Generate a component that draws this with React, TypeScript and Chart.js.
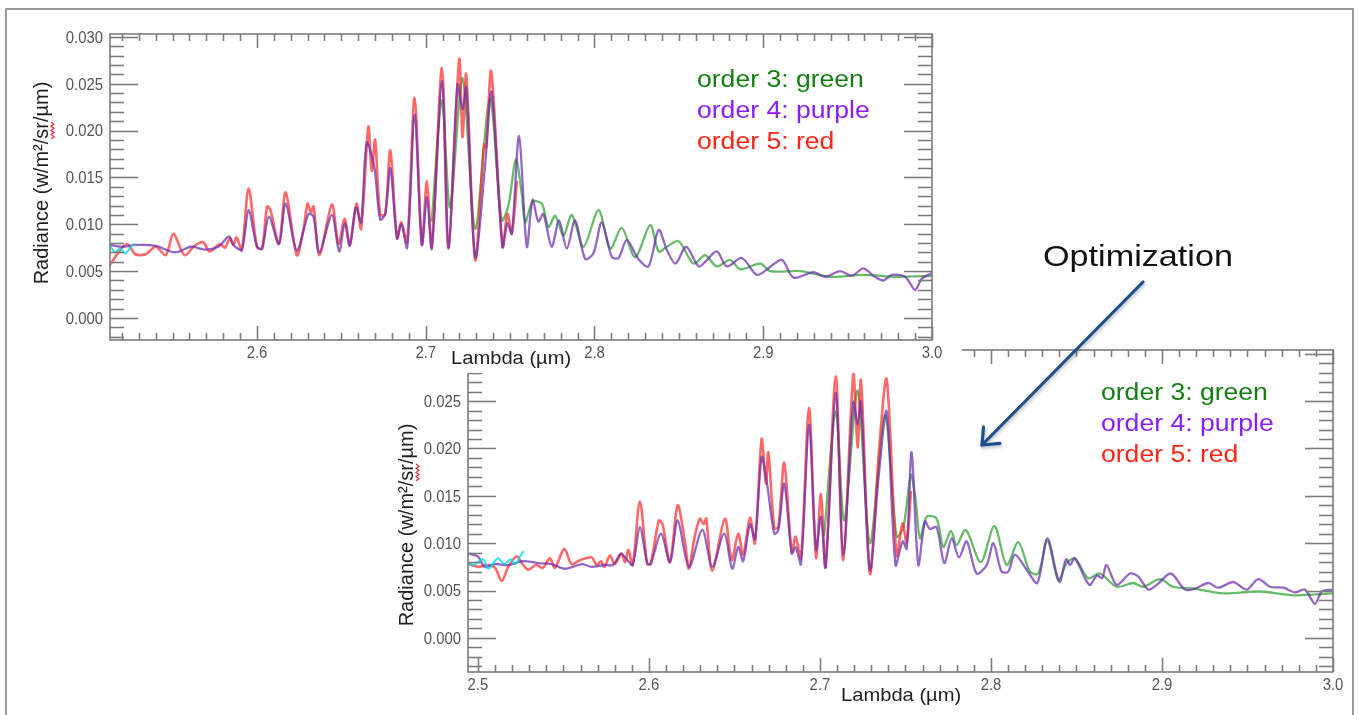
import React, { useEffect, useRef } from "react";
import { Chart, registerables } from "chart.js";

Chart.register(...registerables);

type Pt = [number, number];

// ---------------- data: upper panel (wavelength µm, radiance) ----------------
const TOP_CYAN: Pt[] = [
  [2.513, 0.0077], [2.516, 0.0070], [2.519, 0.0074], [2.522, 0.0069], [2.525, 0.0075], [2.527, 0.0079],
];
const TOP_RED: Pt[] = [
  [2.513, 0.0057], [2.518, 0.0070], [2.523, 0.0079], [2.528, 0.0068], [2.534, 0.0068], [2.540, 0.0076],
  [2.546, 0.0067], [2.5505, 0.0090], [2.557, 0.0067], [2.563, 0.0077], [2.568, 0.0081], [2.572, 0.0071],
  [2.578, 0.0079], [2.581, 0.0075], [2.584, 0.0085], [2.586, 0.0078], [2.588, 0.0086], [2.591, 0.0072],
  [2.595, 0.0138], [2.600, 0.0076], [2.603, 0.0074], [2.606, 0.0119], [2.608, 0.0115], [2.613, 0.0079],
  [2.617, 0.0134], [2.6236, 0.0067], [2.6276, 0.0095], [2.630, 0.0122], [2.632, 0.0113], [2.6335, 0.0119],
  [2.637, 0.0067], [2.6444, 0.0121], [2.6483, 0.0079], [2.652, 0.0106], [2.655, 0.0078], [2.659, 0.0122],
  [2.6617, 0.0095], [2.666, 0.0204], [2.668, 0.0157], [2.670, 0.0190], [2.673, 0.0110], [2.676, 0.0111],
  [2.679, 0.0179], [2.683, 0.0085], [2.6855, 0.0102], [2.689, 0.0081], [2.6934, 0.0235], [2.6977, 0.0079],
  [2.7007, 0.0146], [2.7036, 0.0076], [2.7096, 0.0267], [2.7135, 0.0074], [2.7198, 0.0276], [2.7218, 0.0193],
  [2.724, 0.0260], [2.7293, 0.0062], [2.7345, 0.0185], [2.7358, 0.0182], [2.7388, 0.0263], [2.7455, 0.0076],
  [2.7484, 0.0111], [2.751, 0.0090], [2.754, 0.0145],
];
const TOP_PURPLE: Pt[] = [
  [2.513, 0.0078], [2.520, 0.0076], [2.528, 0.0078], [2.540, 0.0077], [2.5515, 0.0070], [2.561, 0.0076],
  [2.569, 0.0073], [2.577, 0.0076], [2.5835, 0.0087], [2.586, 0.0078], [2.591, 0.0073], [2.595, 0.0115],
  [2.600, 0.0076], [2.603, 0.0074], [2.607, 0.0108], [2.613, 0.0079], [2.617, 0.0122], [2.6236, 0.0072],
  [2.6305, 0.0111], [2.6335, 0.0108], [2.637, 0.0070], [2.6444, 0.0110], [2.6487, 0.0071], [2.652, 0.0101],
  [2.655, 0.0077], [2.6586, 0.0118], [2.6617, 0.0102], [2.665, 0.0187], [2.6695, 0.0161], [2.673, 0.0105],
  [2.676, 0.0111], [2.679, 0.0160], [2.683, 0.0085], [2.6855, 0.0100], [2.689, 0.0075], [2.6934, 0.0217],
  [2.6977, 0.0078], [2.7007, 0.0129], [2.7036, 0.0074], [2.7096, 0.0253], [2.7135, 0.0075], [2.7188, 0.0249],
  [2.7218, 0.0223], [2.724, 0.0246], [2.7293, 0.0065], [2.7352, 0.0163], [2.739, 0.0241], [2.7455, 0.0076],
  [2.7484, 0.0101], [2.751, 0.0090], [2.7553, 0.0194], [2.7599, 0.0076], [2.7633, 0.0126], [2.7667, 0.0103],
  [2.7697, 0.0111], [2.7746, 0.0076], [2.779, 0.0104], [2.7836, 0.0074], [2.7885, 0.0104], [2.7945, 0.0063],
  [2.7994, 0.0069], [2.8043, 0.0102], [2.8103, 0.0065], [2.8142, 0.0064], [2.8191, 0.0083], [2.826, 0.0063],
  [2.832, 0.0055], [2.838, 0.0094], [2.843, 0.0072], [2.848, 0.0058], [2.8543, 0.0076], [2.8617, 0.0055],
  [2.8656, 0.0060], [2.8725, 0.0071], [2.8784, 0.0055], [2.8873, 0.0064], [2.8962, 0.0046], [2.9031, 0.0053],
  [2.911, 0.0062], [2.918, 0.0043], [2.9298, 0.0049], [2.9367, 0.0044], [2.9456, 0.0050], [2.9525, 0.0045],
  [2.9594, 0.0053], [2.9653, 0.0045], [2.9712, 0.0040], [2.9762, 0.0046], [2.984, 0.0044], [2.990, 0.0030],
  [2.994, 0.0042], [3.000, 0.0048],
];
const TOP_GREEN: Pt[] = [
  [2.7036, 0.0104], [2.7096, 0.0232], [2.7144, 0.0118], [2.7218, 0.0256], [2.7293, 0.0095], [2.738, 0.0234],
  [2.745, 0.0104], [2.749, 0.0120], [2.7534, 0.0169], [2.757, 0.0131], [2.759, 0.0102], [2.7633, 0.0124],
  [2.7688, 0.0122], [2.7727, 0.0097], [2.7767, 0.0109], [2.7816, 0.0088], [2.7866, 0.0110], [2.7935, 0.0076],
  [2.8024, 0.0115], [2.8093, 0.0074], [2.8162, 0.0096], [2.8241, 0.0065], [2.833, 0.0099], [2.838, 0.0071],
  [2.8429, 0.0076], [2.8498, 0.0082], [2.8587, 0.0058], [2.8656, 0.0067], [2.8725, 0.0055], [2.8804, 0.0062],
  [2.8863, 0.0052], [2.8982, 0.0058], [2.9041, 0.0050], [2.922, 0.0050], [2.9397, 0.0044], [2.9594, 0.0046],
  [2.9792, 0.0044], [3.000, 0.0045],
];

// ---------------- data: lower panel (after optimization) ----------------
const BOT_CYAN: Pt[] = [
  [2.4945, 0.0079], [2.4975, 0.0077], [2.503, 0.0083], [2.506, 0.0073], [2.5116, 0.0084], [2.5155, 0.0078],
  [2.519, 0.0083], [2.522, 0.0078], [2.5246, 0.0086], [2.5265, 0.0091],
];
const BOT_RED: Pt[] = [
  [2.4945, 0.0078], [2.5002, 0.0075], [2.505, 0.0077], [2.510, 0.0074], [2.5139, 0.0060], [2.5177, 0.0075],
  [2.5226, 0.0086], [2.5265, 0.0077], [2.5294, 0.0072], [2.534, 0.0077], [2.538, 0.0074], [2.5421, 0.0084],
  [2.545, 0.0074], [2.5505, 0.0094], [2.5548, 0.0078], [2.5596, 0.0082], [2.5665, 0.0085], [2.5694, 0.0077],
  [2.572, 0.0081], [2.574, 0.0075], [2.5772, 0.0087], [2.580, 0.0078], [2.584, 0.0089], [2.586, 0.0080],
  [2.588, 0.0093], [2.5905, 0.0077], [2.5947, 0.0144], [2.599, 0.0078], [2.601, 0.0078], [2.6058, 0.0124],
  [2.608, 0.0120], [2.6123, 0.0080], [2.6168, 0.0140], [2.621, 0.0102], [2.6234, 0.0073], [2.6265, 0.0105],
  [2.6298, 0.0126], [2.632, 0.0120], [2.6335, 0.0126], [2.637, 0.0071], [2.6444, 0.0126], [2.6484, 0.0082],
  [2.6522, 0.0110], [2.6551, 0.0088], [2.6591, 0.0127], [2.662, 0.0100], [2.6659, 0.0210], [2.6684, 0.0163],
  [2.6698, 0.0196], [2.6733, 0.0116], [2.6757, 0.0117], [2.6791, 0.0185], [2.6835, 0.0091], [2.6858, 0.0107],
  [2.6889, 0.0084], [2.6936, 0.0243], [2.6977, 0.0085], [2.7006, 0.0152], [2.7033, 0.0075], [2.7092, 0.0276],
  [2.7136, 0.0082], [2.7195, 0.0278], [2.722, 0.0201], [2.724, 0.0272], [2.7292, 0.0068], [2.7345, 0.0197],
  [2.739, 0.0273], [2.7448, 0.0087], [2.7483, 0.0121], [2.7507, 0.0100], [2.7532, 0.0154],
];
const BOT_PURPLE: Pt[] = [
  [2.4945, 0.0089], [2.500, 0.0086], [2.504, 0.0075], [2.510, 0.0078], [2.518, 0.0077], [2.5265, 0.0081],
  [2.535, 0.0079], [2.543, 0.0078], [2.551, 0.0073], [2.561, 0.0078], [2.5665, 0.0075], [2.574, 0.0077],
  [2.579, 0.0077], [2.5836, 0.0089], [2.587, 0.0083], [2.5905, 0.0077], [2.5947, 0.0117], [2.599, 0.0079],
  [2.601, 0.0078], [2.607, 0.0110], [2.6123, 0.0080], [2.6168, 0.0124], [2.6234, 0.0075], [2.6312, 0.0114],
  [2.637, 0.0075], [2.644, 0.0110], [2.6487, 0.0073], [2.6522, 0.0096], [2.6551, 0.0081], [2.6591, 0.0120],
  [2.662, 0.0104], [2.6659, 0.0191], [2.6692, 0.0161], [2.6733, 0.0110], [2.6757, 0.0114], [2.6791, 0.0163],
  [2.6835, 0.0089], [2.6858, 0.0096], [2.6889, 0.0078], [2.6936, 0.0225], [2.6977, 0.0093], [2.7006, 0.0128],
  [2.7033, 0.0075], [2.7092, 0.0259], [2.7136, 0.0088], [2.7195, 0.0249], [2.722, 0.0225], [2.724, 0.0249],
  [2.7292, 0.0072], [2.7345, 0.0174], [2.739, 0.0239], [2.7442, 0.0077], [2.7483, 0.0102], [2.7507, 0.0094],
  [2.7536, 0.0196], [2.7575, 0.0077], [2.7614, 0.0123], [2.7643, 0.0115], [2.7682, 0.0117], [2.7727, 0.0079],
  [2.777, 0.0105], [2.7813, 0.0085], [2.7858, 0.0102], [2.7916, 0.0068], [2.7975, 0.0077], [2.8014, 0.0100],
  [2.8062, 0.0070], [2.8101, 0.0070], [2.814, 0.0088], [2.8209, 0.0072], [2.8271, 0.0058], [2.833, 0.0105],
  [2.840, 0.0059], [2.8439, 0.0083], [2.8463, 0.0077], [2.8491, 0.0084], [2.8575, 0.0056], [2.862, 0.0066],
  [2.865, 0.0063], [2.8676, 0.0077], [2.8735, 0.0056], [2.8813, 0.0068], [2.886, 0.0065], [2.892, 0.0051],
  [2.897, 0.0056], [2.9051, 0.0068], [2.9135, 0.0051], [2.9193, 0.0052], [2.9271, 0.0058], [2.9329, 0.0053],
  [2.9417, 0.0059], [2.9495, 0.0051], [2.9563, 0.0062], [2.9631, 0.0054], [2.971, 0.0053], [2.9778, 0.0048],
  [2.9836, 0.0051], [2.9895, 0.0036], [2.9934, 0.0049], [3.000, 0.0051],
];
const BOT_GREEN: Pt[] = [
  [2.7025, 0.0109], [2.7092, 0.0239], [2.7142, 0.0124], [2.722, 0.0261], [2.7292, 0.0100], [2.738, 0.0235],
  [2.7448, 0.0107], [2.7488, 0.0117], [2.7532, 0.0172], [2.756, 0.0145], [2.7585, 0.0105], [2.7624, 0.0128],
  [2.7682, 0.0126], [2.7721, 0.0096], [2.7766, 0.0113], [2.7799, 0.0098], [2.7853, 0.0114], [2.794, 0.0080],
  [2.802, 0.0118], [2.8092, 0.0077], [2.816, 0.0101], [2.8228, 0.0070], [2.8277, 0.0068], [2.833, 0.0103],
  [2.8394, 0.0061], [2.8443, 0.0079], [2.8491, 0.0084], [2.8569, 0.0063], [2.8637, 0.0068], [2.8735, 0.0054],
  [2.8832, 0.0058], [2.8891, 0.0054], [2.8988, 0.0062], [2.9065, 0.0054], [2.9183, 0.0052], [2.9359, 0.0047],
  [2.9573, 0.0049], [2.9768, 0.0045], [3.000, 0.0047],
];

// ---------------- axes, ticks, texts ----------------
const TOP_X_RANGE: Pt = [2.5129, 3.0];
const TOP_Y_RANGE: Pt = [-0.00235, 0.0303];
const BOT_X_RANGE: Pt = [2.4942, 3.0];
const BOT_Y_RANGE: Pt = [-0.0036, 0.0304];

const TOP_X_TICKS = [2.6, 2.7, 2.8, 2.9, 3.0];
const BOT_X_TICKS = [2.5, 2.6, 2.7, 2.8, 2.9, 3.0];
const Y_TICKS = [0, 0.005, 0.01, 0.015, 0.02, 0.025, 0.03];
const X_MINOR_PER_UNIT = 100; // minor tick every 0.01
const Y_MINOR_PER_UNIT = 1000; // minor tick every 0.001

const LEGEND_LABELS = ["order 3: green", "order 4: purple", "order 5: red"];
const LEGEND_COLORS = ["#127f10", "#8a1cff", "#ff2414"];
const X_TITLE = "Lambda (µm)";
const Y_TITLE = "Radiance (w/m²/sr/µm)";
const ANNOTATION = "Optimization";

const FONT = "'Liberation Sans', Arial, sans-serif";
const AXIS_COLOR = "#7c7c7c";
const TICK_TEXT = "#555555";

const LINE_COLORS = {
  cyan: "rgba(0,225,240,0.85)",
  purple: "rgba(105,45,175,0.72)",
  red: "rgba(255,40,40,0.70)",
  green: "rgba(45,160,45,0.72)",
};

type PanelCfg = {
  left: number; top: number; width: number; height: number; z: number;
  pad: { left: number; right: number; top: number; bottom: number };
  xr: Pt; yr: Pt; xTicks: number[];
  cyan: Pt[]; red: Pt[]; purple: Pt[]; green: Pt[];
  yTitle: { x: number; y: number };
  xTitle: { x: number; y: number };
  legend: { x: number; y: number; gap: number };
  xLabelBase: number;
};

const TOP_CFG: PanelCfg = {
  left: 7, top: 10, width: 955, height: 363, z: 2,
  pad: { left: 103, right: 30, top: 24, bottom: 33 },
  xr: TOP_X_RANGE, yr: TOP_Y_RANGE, xTicks: TOP_X_TICKS,
  cyan: TOP_CYAN, red: TOP_RED, purple: TOP_PURPLE, green: TOP_GREEN,
  yTitle: { x: 48, y: 183 },
  xTitle: { x: 451, y: 364 },
  legend: { x: 697, y: 87, gap: 31 },
  xLabelBase: 358,
};

const BOT_CFG: PanelCfg = {
  left: 390, top: 345, width: 960, height: 370, z: 1,
  pad: { left: 78, right: 17, top: 5, bottom: 43 },
  xr: BOT_X_RANGE, yr: BOT_Y_RANGE, xTicks: BOT_X_TICKS,
  cyan: BOT_CYAN, red: BOT_RED, purple: BOT_PURPLE, green: BOT_GREEN,
  yTitle: { x: 413, y: 525 },
  xTitle: { x: 841, y: 701 },
  legend: { x: 1101, y: 400, gap: 31 },
  xLabelBase: 690,
};

function stretchText(
  ctx: CanvasRenderingContext2D, text: string, x: number, y: number,
  font: string, color: string, align: CanvasTextAlign, sx: number, baseline: CanvasTextBaseline = "alphabetic"
) {
  ctx.save();
  ctx.font = font;
  ctx.fillStyle = color;
  ctx.textAlign = align;
  ctx.textBaseline = baseline;
  ctx.translate(x, y);
  ctx.scale(sx, 1);
  ctx.fillText(text, 0, 0);
  ctx.restore();
}

function makePlugin(cfg: PanelCfg) {
  return {
    id: "idlAxes",
    afterDatasetsDraw(chart: any) {
      const ctx: CanvasRenderingContext2D = chart.ctx;
      const a = chart.chartArea;
      const xs = chart.scales.x;
      const ys = chart.scales.y;
      const ox = cfg.left, oy = cfg.top;

      ctx.save();
      ctx.strokeStyle = AXIS_COLOR;
      ctx.lineWidth = 1.6;
      ctx.strokeRect(a.left, a.top, a.right - a.left, a.bottom - a.top);

      const seg = (x1: number, y1: number, x2: number, y2: number) => {
        ctx.beginPath();
        ctx.moveTo(x1, y1);
        ctx.lineTo(x2, y2);
        ctx.stroke();
      };

      // y ticks (left & right, inward)
      const yStart = Math.ceil(cfg.yr[0] * Y_MINOR_PER_UNIT - 1e-6);
      const yEnd = Math.floor(cfg.yr[1] * Y_MINOR_PER_UNIT + 1e-6);
      for (let k = yStart; k <= yEnd; k++) {
        const major = k % 5 === 0;
        const py = Math.round(ys.getPixelForValue(k / Y_MINOR_PER_UNIT)) + 0.5;
        const len = major ? 28 : 14;
        seg(a.left, py, a.left + len, py);
        seg(a.right, py, a.right - len, py);
      }
      // x ticks (bottom & top, inward)
      const xStart = Math.ceil(cfg.xr[0] * X_MINOR_PER_UNIT - 1e-6);
      const xEnd = Math.floor(cfg.xr[1] * X_MINOR_PER_UNIT + 1e-6);
      for (let k = xStart; k <= xEnd; k++) {
        const major = k % 10 === 0;
        const px = Math.round(xs.getPixelForValue(k / X_MINOR_PER_UNIT)) + 0.5;
        const len = major ? 14 : 7;
        seg(px, a.bottom, px, a.bottom - len);
        seg(px, a.top, px, a.top + len);
      }
      ctx.restore();

      // tick labels
      const tickFont = `16px ${FONT}`;
      Y_TICKS.forEach((v) => {
        if (v < cfg.yr[0] || v > cfg.yr[1]) return;
        stretchText(ctx, v.toFixed(3), a.left - 7, ys.getPixelForValue(v) + 1.5, tickFont, TICK_TEXT, "right", 0.93, "middle");
      });
      cfg.xTicks.forEach((v) => {
        stretchText(ctx, v.toFixed(1), xs.getPixelForValue(v), cfg.xLabelBase - oy, tickFont, TICK_TEXT, "center", 0.93);
      });

      // x title
      stretchText(ctx, X_TITLE, cfg.xTitle.x - ox, cfg.xTitle.y - oy, `19px ${FONT}`, "#1e1e1e", "left", 1.06);

      // y title (rotated) with spell-check squiggle under "sr"
      ctx.save();
      ctx.translate(cfg.yTitle.x - ox, cfg.yTitle.y - oy);
      ctx.rotate(-Math.PI / 2);
      ctx.font = `20px ${FONT}`;
      ctx.fillStyle = "#1e1e1e";
      ctx.textAlign = "center";
      ctx.textBaseline = "alphabetic";
      ctx.fillText(Y_TITLE, 0, 0);
      const full = ctx.measureText(Y_TITLE).width;
      const idx = Y_TITLE.indexOf("sr");
      const pre = ctx.measureText(Y_TITLE.slice(0, idx)).width;
      const sw = ctx.measureText("sr").width;
      const x0 = -full / 2 + pre;
      ctx.strokeStyle = "#e02222";
      ctx.lineWidth = 1.1;
      ctx.beginPath();
      const n = 8;
      for (let i = 0; i <= n; i++) {
        const px = x0 + (i * sw) / n;
        const py = 3 + (i % 2 ? 3 : 0);
        if (i === 0) ctx.moveTo(px, py);
        else ctx.lineTo(px, py);
      }
      ctx.stroke();
      ctx.restore();

      // legend text
      LEGEND_LABELS.forEach((t, i) => {
        stretchText(ctx, t, cfg.legend.x - ox, cfg.legend.y - oy + i * cfg.legend.gap, `23px ${FONT}`, LEGEND_COLORS[i], "left", 1.155);
      });
    },
  };
}

function toXY(pts: Pt[]) {
  return pts.map(([x, y]) => ({ x, y }));
}

function Panel({ cfg, background }: { cfg: PanelCfg; background: string }) {
  const ref = useRef<HTMLCanvasElement>(null);
  useEffect(() => {
    if (!ref.current) return;
    const mk = (pts: Pt[], color: string, w: number) => ({
      data: toXY(pts),
      borderColor: color,
      borderWidth: w,
      pointRadius: 0,
      fill: false,
      tension: 0.3,
      borderJoinStyle: "round" as const,
      borderCapStyle: "round" as const,
    });
    const chart = new Chart(ref.current, {
      type: "line",
      data: {
        datasets: [
          mk(cfg.cyan, LINE_COLORS.cyan, 2),
          mk(cfg.purple, LINE_COLORS.purple, 2.3),
          mk(cfg.red, LINE_COLORS.red, 2.6),
          mk(cfg.green, LINE_COLORS.green, 2.3),
        ],
      },
      options: {
        responsive: false,
        animation: false,
        devicePixelRatio: 1,
        events: [],
        layout: { padding: cfg.pad },
        scales: {
          x: { type: "linear", min: cfg.xr[0], max: cfg.xr[1], display: false },
          y: { type: "linear", min: cfg.yr[0], max: cfg.yr[1], display: false },
        },
        plugins: { legend: { display: false }, tooltip: { enabled: false } },
        elements: { point: { radius: 0 } },
      },
      plugins: [makePlugin(cfg)],
    } as any);
    return () => chart.destroy();
  }, [cfg]);
  return (
    <canvas
      ref={ref}
      width={cfg.width}
      height={cfg.height}
      style={{
        position: "absolute",
        left: cfg.left,
        top: cfg.top,
        width: cfg.width,
        height: cfg.height,
        zIndex: cfg.z,
        background,
      }}
    />
  );
}

function Arrow() {
  const tail = { x: 1143, y: 282 };
  const tip = { x: 982, y: 445 };
  const ang = Math.atan2(tail.y - tip.y, tail.x - tip.x);
  const L = 18;
  const spread = (40 * Math.PI) / 180;
  const p1 = { x: tip.x + L * Math.cos(ang - spread), y: tip.y + L * Math.sin(ang - spread) };
  const p2 = { x: tip.x + L * Math.cos(ang + spread), y: tip.y + L * Math.sin(ang + spread) };
  return (
    <svg
      width={1359}
      height={715}
      style={{ position: "absolute", left: 0, top: 0, zIndex: 3, pointerEvents: "none" }}
    >
      <defs>
        <filter id="sh" x="-20%" y="-20%" width="140%" height="140%">
          <feDropShadow dx="1" dy="2" stdDeviation="1.5" floodColor="#000" floodOpacity="0.25" />
        </filter>
      </defs>
      <g filter="url(#sh)" stroke="#1f4f8c" strokeWidth={3.2} strokeLinecap="round" fill="none">
        <line x1={tail.x} y1={tail.y} x2={tip.x} y2={tip.y} />
        <polyline points={`${p1.x},${p1.y} ${tip.x},${tip.y} ${p2.x},${p2.y}`} strokeLinejoin="round" />
      </g>
      <text
        x={1043}
        y={266}
        fontSize={30}
        fontFamily={FONT}
        fill="#111"
        textLength={190}
        lengthAdjust="spacingAndGlyphs"
      >
        {ANNOTATION}
      </text>
    </svg>
  );
}

export default function App() {
  return (
    <div
      style={{
        position: "fixed",
        left: 0,
        top: 0,
        width: 1359,
        height: 715,
        background: "#fff",
        overflow: "hidden",
      }}
    >
      <div
        style={{
          position: "absolute",
          left: 5,
          top: 8,
          width: 1349,
          height: 760,
          border: "2px solid #9a9a9a",
          boxSizing: "border-box",
        }}
      />
      <Panel cfg={BOT_CFG} background="transparent" />
      <Panel cfg={TOP_CFG} background="#ffffff" />
      <Arrow />
    </div>
  );
}
